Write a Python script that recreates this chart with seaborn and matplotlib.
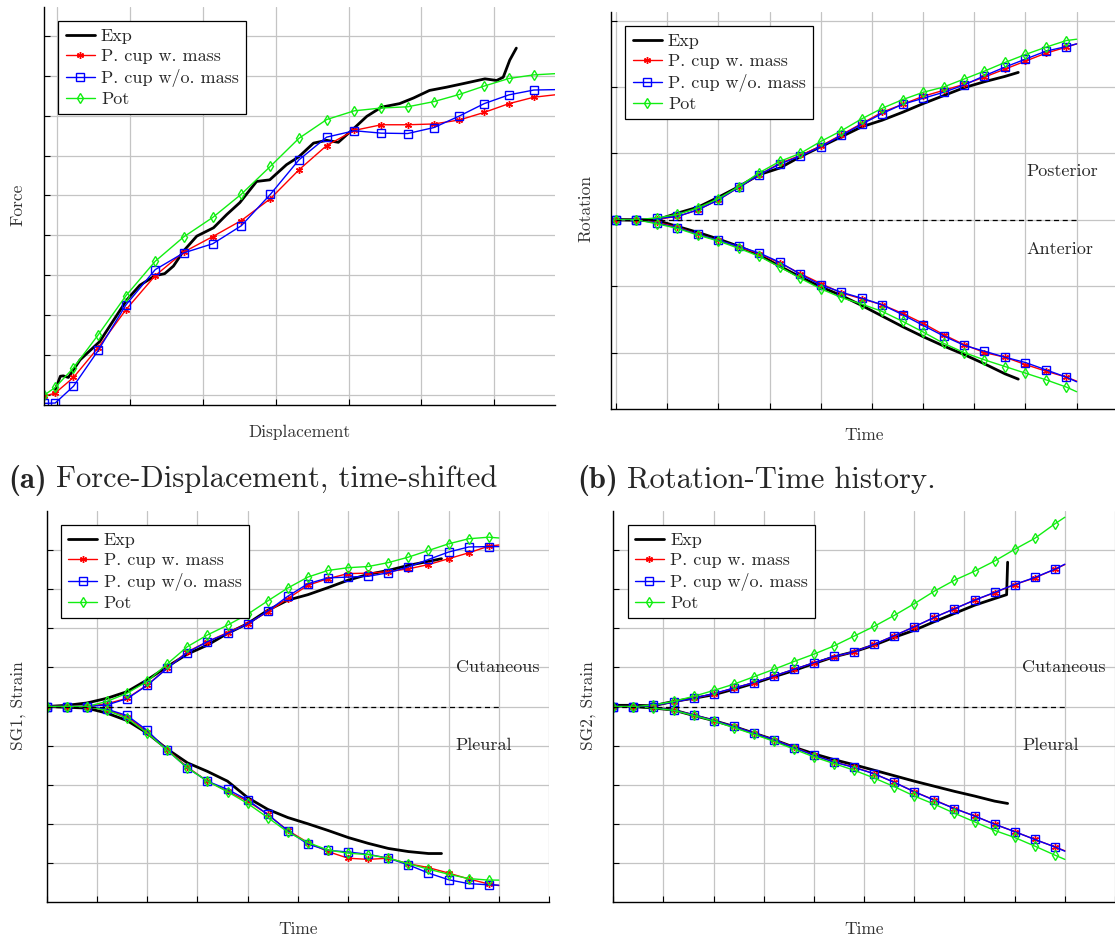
import matplotlib
matplotlib.use('Agg')
import matplotlib.pyplot as plt
import seaborn as sns
from matplotlib.lines import Line2D
from matplotlib.legend_handler import HandlerLine2D

# ---------------- data ----------------
# (a) Force-Displacement
a_x = [-0.17, -0.02, 0.23, 0.57, 0.95, 1.35, 1.74, 2.14, 2.53, 2.93, 3.32, 3.70,
       4.08, 4.45, 4.81, 5.17, 5.52, 5.86, 6.20, 6.54, 6.83]
a_pot = [0.00, 0.19, 0.68, 1.51, 2.49, 3.35, 3.96, 4.45, 5.03, 5.73, 6.43, 6.90,
         7.12, 7.19, 7.22, 7.35, 7.53, 7.74, 7.93, 8.02, 8.05]
a_wmass = [-0.03, 0.05, 0.44, 1.19, 2.14, 2.99, 3.58, 3.97, 4.37, 4.92, 5.64, 6.25,
           6.63, 6.77, 6.77, 6.79, 6.89, 7.08, 7.30, 7.46, 7.52]
a_womass = [-0.21, -0.20, 0.22, 1.12, 2.26, 3.14, 3.56, 3.79, 4.24, 5.03, 5.89, 6.46,
            6.62, 6.56, 6.55, 6.70, 6.99, 7.30, 7.52, 7.64, 7.65]
a_exp_x = [-0.02, 0.05, 0.09, 0.16, 0.32, 0.59, 0.96, 1.14, 1.35, 1.48, 1.60, 1.74,
           1.92, 2.15, 2.33, 2.51, 2.74, 2.92, 3.15, 3.32, 3.52, 3.70, 3.86, 4.08,
           4.25, 4.45, 4.70, 4.89, 5.11, 5.34, 5.57, 5.87, 6.03, 6.12, 6.21, 6.30]
a_exp = [0.13, 0.47, 0.48, 0.44, 0.88, 1.34, 2.38, 2.75, 2.99, 3.04, 3.23, 3.61,
         3.98, 4.19, 4.52, 4.82, 5.35, 5.39, 5.77, 5.97, 6.31, 6.38, 6.33, 6.69,
         6.98, 7.21, 7.30, 7.44, 7.63, 7.71, 7.80, 7.92, 7.88, 7.96, 8.39, 8.69]

# common time axis for (b), (c), (d)
t_sim = [0, 0.4, 0.8, 1.2, 1.6, 2.0, 2.4, 2.8, 3.2, 3.6, 4.0, 4.4, 4.8, 5.2,
         5.6, 6.0, 6.4, 6.8, 7.2, 7.6, 8.0, 8.4, 8.8, 9.0]
t_exp = [0, 0.4, 0.8, 1.2, 1.6, 2.0, 2.4, 2.8, 3.2, 3.6, 4.0, 4.4, 4.8, 5.2,
         5.6, 6.0, 6.4, 6.8, 7.2, 7.6, 7.86]

# (b) Rotation-Time
b_post_pot = [0, 0, 0.03, 0.08, 0.18, 0.32, 0.50, 0.71, 0.88, 1.00, 1.18, 1.34,
              1.52, 1.68, 1.81, 1.92, 2.00, 2.12, 2.24, 2.37, 2.49, 2.60, 2.70, 2.72]
b_post_wmass = [0, 0, 0.01, 0.05, 0.15, 0.30, 0.49, 0.68, 0.85, 0.97, 1.11, 1.28,
                1.45, 1.62, 1.74, 1.86, 1.95, 2.04, 2.15, 2.27, 2.39, 2.51, 2.60, 2.65]
b_post_womass = [0, 0, 0.02, 0.05, 0.15, 0.30, 0.49, 0.68, 0.84, 0.96, 1.10, 1.27,
                 1.44, 1.60, 1.74, 1.83, 1.92, 2.03, 2.17, 2.30, 2.42, 2.54, 2.61, 2.65]
b_ant_pot = [0, 0, -0.06, -0.13, -0.23, -0.32, -0.43, -0.55, -0.71, -0.88, -1.04, -1.17,
             -1.27, -1.38, -1.53, -1.69, -1.86, -2.00, -2.11, -2.21, -2.31, -2.41, -2.52, -2.59]
b_ant_wmass = [0, 0, -0.04, -0.11, -0.22, -0.31, -0.41, -0.51, -0.65, -0.81, -0.96, -1.10,
               -1.19, -1.28, -1.41, -1.56, -1.73, -1.88, -2.00, -2.07, -2.18, -2.28, -2.37, -2.43]
b_ant_womass = [0, 0, -0.05, -0.12, -0.22, -0.31, -0.40, -0.50, -0.64, -0.82, -0.98, -1.09,
                -1.18, -1.28, -1.43, -1.59, -1.75, -1.89, -1.98, -2.07, -2.15, -2.26, -2.37, -2.44]
b_exp_t = [0, 0.8, 1.2, 1.6, 2.0, 2.4, 2.8, 3.2, 3.6, 4.0, 4.4, 4.8, 5.2, 5.6,
           6.0, 6.4, 6.8, 7.2, 7.6, 7.86]
b_post_exp = [0, 0, 0.10, 0.19, 0.34, 0.50, 0.68, 0.78, 0.95, 1.10, 1.25, 1.40,
              1.50, 1.62, 1.75, 1.87, 1.99, 2.08, 2.16, 2.22]
b_ant_exp = [0, -0.01, -0.10, -0.19, -0.29, -0.40, -0.53, -0.70, -0.86, -1.01, -1.14, -1.29,
             -1.45, -1.61, -1.76, -1.90, -2.03, -2.17, -2.32, -2.40]

# (c) SG1 strain
c_cut_pot = [0, 0, 0, 0.13, 0.34, 0.64, 1.09, 1.53, 1.83, 2.08, 2.36, 2.70,
             3.03, 3.31, 3.48, 3.55, 3.58, 3.68, 3.82, 3.99, 4.16, 4.29, 4.33, 4.31]
c_cut_wmass = [0, 0, 0, 0.07, 0.21, 0.55, 0.98, 1.40, 1.66, 1.89, 2.12, 2.42,
               2.76, 3.10, 3.27, 3.40, 3.41, 3.45, 3.52, 3.63, 3.78, 3.93, 4.10, 4.13]
c_cut_womass = [0, 0, 0, 0.04, 0.20, 0.54, 0.98, 1.38, 1.66, 1.87, 2.11, 2.44,
                2.82, 3.14, 3.29, 3.31, 3.33, 3.42, 3.57, 3.76, 3.95, 4.08, 4.09, 4.09]
c_pl_pot = [0, 0, 0, -0.10, -0.30, -0.68, -1.12, -1.57, -1.91, -2.18, -2.48, -2.84,
            -3.21, -3.48, -3.67, -3.75, -3.79, -3.88, -4.02, -4.16, -4.29, -4.40, -4.44, -4.44]
c_pl_wmass = [0, 0, 0, -0.09, -0.26, -0.65, -1.10, -1.55, -1.91, -2.17, -2.42, -2.76,
              -3.17, -3.48, -3.71, -3.88, -3.91, -3.88, -4.02, -4.12, -4.26, -4.41, -4.54, -4.58]
c_pl_womass = [0, 0, 0, -0.07, -0.23, -0.61, -1.12, -1.57, -1.91, -2.12, -2.39, -2.76,
               -3.18, -3.52, -3.68, -3.72, -3.78, -3.88, -4.05, -4.26, -4.43, -4.53, -4.56, -4.57]
c_cut_exp = [0, 0.03, 0.09, 0.21, 0.38, 0.68, 1.02, 1.34, 1.57, 1.87, 2.12, 2.46,
             2.72, 2.86, 3.04, 3.23, 3.38, 3.48, 3.61, 3.71, 3.78]
c_pl_exp = [0, -0.02, -0.04, -0.17, -0.36, -0.68, -1.09, -1.44, -1.66, -1.91, -2.33, -2.63,
            -2.84, -3.00, -3.17, -3.35, -3.50, -3.63, -3.71, -3.76, -3.76]

# (d) SG2 strain
d_cut_pot = [0, 0, 0.04, 0.13, 0.26, 0.41, 0.57, 0.76, 0.95, 1.15, 1.34, 1.55,
             1.80, 2.05, 2.33, 2.63, 2.95, 3.23, 3.46, 3.72, 4.02, 4.30, 4.67, 4.84]
d_cut_wmass = [0, 0, 0.03, 0.11, 0.21, 0.32, 0.47, 0.61, 0.78, 0.95, 1.12, 1.27,
               1.40, 1.59, 1.81, 2.04, 2.28, 2.50, 2.72, 2.91, 3.12, 3.29, 3.51, 3.63]
d_cut_womass = [0, 0, 0.03, 0.11, 0.21, 0.33, 0.47, 0.61, 0.78, 0.95, 1.12, 1.28,
                1.40, 1.59, 1.81, 2.04, 2.28, 2.50, 2.72, 2.92, 3.12, 3.30, 3.51, 3.64]
d_pl_pot = [0, 0, -0.04, -0.10, -0.23, -0.37, -0.54, -0.71, -0.89, -1.09, -1.29, -1.46,
            -1.63, -1.83, -2.05, -2.29, -2.50, -2.73, -2.95, -3.17, -3.35, -3.57, -3.80, -3.91]
d_pl_wmass = [0, 0, -0.02, -0.10, -0.21, -0.36, -0.51, -0.68, -0.85, -1.04, -1.25, -1.42,
              -1.55, -1.72, -1.94, -2.18, -2.39, -2.61, -2.80, -3.01, -3.20, -3.40, -3.59, -3.69]
d_pl_womass = [0, 0, -0.02, -0.10, -0.21, -0.36, -0.51, -0.68, -0.85, -1.05, -1.25, -1.42,
               -1.56, -1.72, -1.94, -2.18, -2.40, -2.61, -2.80, -3.01, -3.20, -3.40, -3.59, -3.70]
d_exp_t_cut = [0, 0.4, 0.8, 1.2, 1.6, 2.0, 2.4, 2.8, 3.2, 3.6, 4.0, 4.4, 4.8, 5.2,
               5.6, 6.0, 6.4, 6.8, 7.2, 7.6, 7.84, 7.86]
d_cut_exp = [0.03, 0.03, 0.02, 0.13, 0.21, 0.30, 0.44, 0.59, 0.76, 0.92, 1.10, 1.27,
             1.40, 1.57, 1.77, 1.95, 2.17, 2.38, 2.59, 2.76, 2.86, 3.69]
d_pl_exp = [0.03, 0, -0.04, -0.09, -0.23, -0.36, -0.51, -0.68, -0.85, -1.04, -1.21, -1.36,
            -1.49, -1.63, -1.77, -1.91, -2.04, -2.17, -2.29, -2.42, -2.48]

labels = ['Exp', 'P. cup w. mass', 'P. cup w/o. mass', 'Pot']

# ---------------- style ----------------
sns.set_style('white')
plt.rcParams['font.family'] = ['cmr10']
plt.rcParams['mathtext.fontset'] = 'cm'
plt.rcParams['axes.unicode_minus'] = False

RED, BLUE, GREEN = '#ff0000', '#0000ff', '#11ee11'
W, H = 1115, 940
fig = plt.figure(figsize=(W / 100, H / 100), dpi=100)


class LeftMark(HandlerLine2D):
    # legend marker sits at the start of the handle line, like pgfplots
    def get_xdata(self, legend, xdescent, ydescent, width, height, fontsize):
        xdata, _ = super().get_xdata(legend, xdescent, ydescent, width, height, fontsize)
        return xdata, [xdata[0] + 1.5]


def make_axes(left, right, top, bottom, xlim, ylim, xticks, yticks):
    ax = fig.add_axes([left / W, 1 - bottom / H, (right - left) / W, (bottom - top) / H])
    ax.set_xlim(*xlim)
    ax.set_ylim(*ylim)
    ax.set_xticks(xticks)
    ax.set_yticks(yticks)
    ax.set_xticklabels([])
    ax.set_yticklabels([])
    ax.grid(True, color='#c4c4c4', lw=0.9)
    for s in ['top', 'right']:
        ax.spines[s].set_visible(False)
    for s in ['left', 'bottom']:
        ax.spines[s].set_color('black')
        ax.spines[s].set_linewidth(1.0)
    ax.tick_params(direction='in', length=4, width=0.8, color='black',
                   left=True, bottom=True)
    ax.set_axisbelow(True)
    return ax


def draw_series(ax, x, y, kind, nmark, label=None):
    if kind == 'exp':
        sns.lineplot(x=x, y=y, ax=ax, color='black', lw=2.0, sort=False,
                     estimator=None, label=label)
        return
    style = {
        'wmass': dict(color=RED, marker=(6, 2, 0), markersize=5,
                      markerfacecolor=RED, markeredgecolor=RED),
        'womass': dict(color=BLUE, marker='s', markersize=5.5,
                       markerfacecolor='none', markeredgecolor=BLUE),
        'pot': dict(color=GREEN, marker='d', markersize=5.5,
                    markerfacecolor='none', markeredgecolor=GREEN),
    }[kind]
    sns.lineplot(x=x, y=y, ax=ax, lw=1.0, markeredgewidth=1.0, sort=False,
                 estimator=None, markevery=slice(0, nmark), label=label, **style)


def add_legend(ax):
    leg = ax.legend(loc='upper left', bbox_to_anchor=(0, 1), borderaxespad=0.8,
                    fontsize=13, handlelength=1.6, handletextpad=0.35,
                    borderpad=0.4, labelspacing=0.25, fancybox=False,
                    framealpha=1, edgecolor='black', numpoints=1,
                    handler_map={Line2D: LeftMark(numpoints=1)})
    leg.get_frame().set_linewidth(0.9)


# ---------------- (a) ----------------
ax = make_axes(44, 555, 7, 405, (-0.174, 6.83), (-0.25, 9.72), range(0, 7), range(0, 10))
draw_series(ax, a_exp_x, a_exp, 'exp', 0, labels[0])
draw_series(ax, a_x, a_wmass, 'wmass', 20, labels[1])
draw_series(ax, a_x, a_womass, 'womass', 20, labels[2])
draw_series(ax, a_x, a_pot, 'pot', 20, labels[3])
add_legend(ax)

# ---------------- (b) ----------------
ax = make_axes(611, 1115, 12, 409, (-0.098, 9.75), (-2.85, 3.13), range(0, 10), range(-2, 4))
draw_series(ax, b_exp_t, b_post_exp, 'exp', 0, labels[0])
draw_series(ax, t_sim, b_post_wmass, 'wmass', 23, labels[1])
draw_series(ax, t_sim, b_post_womass, 'womass', 23, labels[2])
draw_series(ax, t_sim, b_post_pot, 'pot', 23, labels[3])
draw_series(ax, b_exp_t, b_ant_exp, 'exp', 0)
draw_series(ax, t_sim, b_ant_wmass, 'wmass', 23)
draw_series(ax, t_sim, b_ant_womass, 'womass', 23)
draw_series(ax, t_sim, b_ant_pot, 'pot', 23)
ax.plot([0, 9.0], [0, 0], color='black', lw=0.9, ls=(0, (4, 3)))
ax.text(8.02, 0.73, 'Posterior', fontsize=13, va='center', ha='left')
ax.text(8.02, -0.45, 'Anterior', fontsize=13, va='center', ha='left')
add_legend(ax)

# ---------------- (c) ----------------
ax = make_axes(46.7, 549, 511, 902, (0, 10), (-5, 5), range(0, 11), range(-4, 5))
draw_series(ax, t_exp, c_cut_exp, 'exp', 0, labels[0])
draw_series(ax, t_sim, c_cut_wmass, 'wmass', 23, labels[1])
draw_series(ax, t_sim, c_cut_womass, 'womass', 23, labels[2])
draw_series(ax, t_sim, c_cut_pot, 'pot', 23, labels[3])
draw_series(ax, t_exp, c_pl_exp, 'exp', 0)
draw_series(ax, t_sim, c_pl_wmass, 'wmass', 23)
draw_series(ax, t_sim, c_pl_womass, 'womass', 23)
draw_series(ax, t_sim, c_pl_pot, 'pot', 23)
ax.plot([0, 9.0], [0, 0], color='black', lw=0.9, ls=(0, (4, 3)))
ax.text(8.14, 0.99, 'Cutaneous', fontsize=13, va='center', ha='left')
ax.text(8.14, -1.0, 'Pleural', fontsize=13, va='center', ha='left')
add_legend(ax)

# ---------------- (d) ----------------
ax = make_axes(613.3, 1115, 511, 902, (0, 10), (-5, 5), range(0, 11), range(-4, 5))
draw_series(ax, d_exp_t_cut, d_cut_exp, 'exp', 0, labels[0])
draw_series(ax, t_sim, d_cut_wmass, 'wmass', 23, labels[1])
draw_series(ax, t_sim, d_cut_womass, 'womass', 23, labels[2])
draw_series(ax, t_sim, d_cut_pot, 'pot', 23, labels[3])
draw_series(ax, t_exp, d_pl_exp, 'exp', 0)
draw_series(ax, t_sim, d_pl_wmass, 'wmass', 23)
draw_series(ax, t_sim, d_pl_womass, 'womass', 23)
draw_series(ax, t_sim, d_pl_pot, 'pot', 23)
ax.plot([0, 9.0], [0, 0], color='black', lw=0.9, ls=(0, (4, 3)))
ax.text(8.15, 0.99, 'Cutaneous', fontsize=13, va='center', ha='left')
ax.text(8.15, -1.0, 'Pleural', fontsize=13, va='center', ha='left')
add_legend(ax)

# ---------------- axis labels and captions ----------------
lab = dict(fontsize=12.5, color='#333333', va='center', ha='center')
fig.text(299 / W, 1 - 432 / H, 'Displacement', **lab)
fig.text(18 / W, 1 - 205 / H, 'Force', rotation=90, **lab)
fig.text(864 / W, 1 - 435 / H, 'Time', **lab)
fig.text(586 / W, 1 - 209 / H, 'Rotation', rotation=90, **lab)
fig.text(298 / W, 1 - 929 / H, 'Time', **lab)
fig.text(18 / W, 1 - 706 / H, 'SG1, Strain', rotation=90, **lab)
fig.text(864 / W, 1 - 929 / H, 'Time', **lab)
fig.text(588 / W, 1 - 706 / H, 'SG2, Strain', rotation=90, **lab)

renderer = fig.canvas.get_renderer()
for x0, tag, caption in [(8, '(a)', 'Force-Displacement, time-shifted'),
                         (577, '(b)', 'Rotation-Time history.')]:
    t = fig.text(x0 / W, 1 - 481 / H, tag, family='cmb10', fontsize=22,
                 va='baseline', ha='left')
    bb = t.get_window_extent(renderer)
    t.set_y(1 - 481 / H - 7 / H)
    bb = t.get_window_extent(renderer)
    fig.text((bb.x1 + 9) / W, 1 - 488 / H, caption, fontsize=22,
             va='baseline', ha='left')

fig.savefig('out.png', dpi=100)
